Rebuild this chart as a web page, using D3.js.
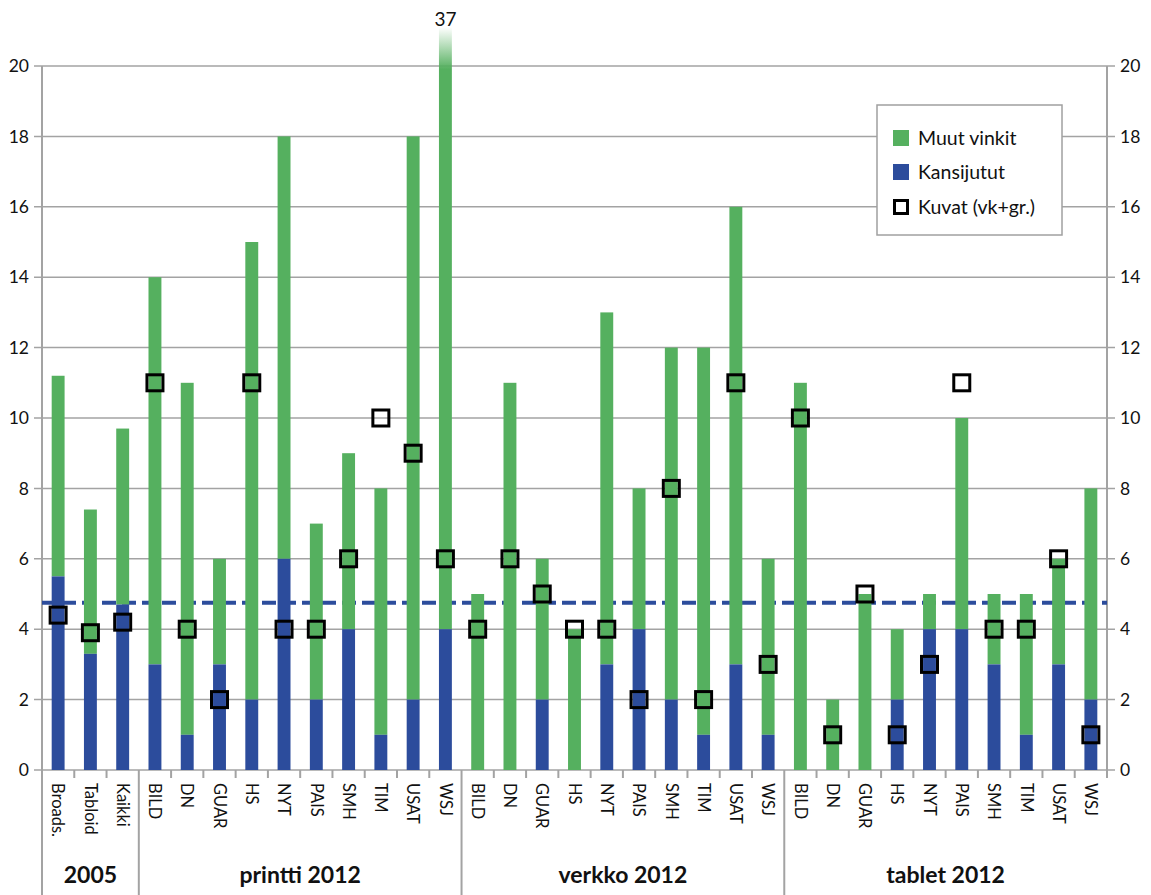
<!DOCTYPE html>
<html>
<head>
<meta charset="utf-8">
<script src="https://cdn.jsdelivr.net/npm/d3@7"></script>
<style>
  html, body { margin: 0; padding: 0; background: #fff; }
  svg { display: block; font-family: "Lato", "Noto Sans", sans-serif; }
</style>
</head>
<body>
<svg id="chart" width="1151" height="895"></svg>
<script>
// Groups and the papers within each group
const groups = ["2005", "printti 2012", "verkko 2012", "tablet 2012"];
const groupMembers = [
  ["Broads.", "Tabloid", "Kaikki"],
  ["BILD", "DN", "GUAR", "HS", "NYT", "PAIS", "SMH", "TIM", "USAT", "WSJ"],
  ["BILD", "DN", "GUAR", "HS", "NYT", "PAIS", "SMH", "TIM", "USAT", "WSJ"],
  ["BILD", "DN", "GUAR", "HS", "NYT", "PAIS", "SMH", "TIM", "USAT", "WSJ"]
];

// Kansijutut (cover stories), stacked bottom
const kansijutut = [
  5.5, 3.3, 4.7,
  3, 1, 3, 2, 6, 2, 4, 1, 2, 4,
  0, 0, 2, 0, 3, 4, 2, 1, 3, 1,
  0, 0, 0, 2, 4, 4, 3, 1, 3, 2
];
// Total of all tips (Kansijutut + Muut vinkit)
const totals = [
  11.2, 7.4, 9.7,
  14, 11, 6, 15, 18, 7, 9, 8, 18, 37,
  5, 11, 6, 4, 13, 8, 12, 12, 16, 6,
  11, 2, 5, 4, 5, 10, 5, 5, 6, 8
];
// Kuvat (vk+gr.) markers
const kuvat = [
  4.4, 3.9, 4.2,
  11, 4, 2, 11, 4, 4, 6, 10, 9, 6,
  4, 6, 5, 4, 4, 2, 8, 2, 11, 3,
  10, 1, 5, 1, 3, 11, 4, 4, 6, 1
];
// Reference level drawn as a dashed line
const referenceLevel = 4.75;
const yTicks = [0, 2, 4, 6, 8, 10, 12, 14, 16, 18, 20];

const GREEN = "#55b05f";
const BLUE = "#2c4c9c";
const GRID = "#a3a3a3";

// Flatten into rows
const rows = [];
groups.forEach((g, gi) => {
  groupMembers[gi].forEach(name => {
    const i = rows.length;
    rows.push({
      key: g + "|" + name, group: g, name,
      blue: kansijutut[i], total: totals[i], kuvat: kuvat[i]
    });
  });
});

const svg = d3.select("#chart");
const plotLeft = 42, plotRight = 1107, plotTop = 66, plotBottom = 770;

const x = d3.scaleBand().domain(rows.map(r => r.key)).range([plotLeft, plotRight]).padding(0);
const y = d3.scaleLinear().domain([0, 20]).range([plotBottom, plotTop]);
const yMaxDrawn = 21.1; // tall bars are cut off just above the top gridline
const barW = x.bandwidth() * 0.4;

// Gradient for bars that exceed the axis
const defs = svg.append("defs");
const grad = defs.append("linearGradient")
  .attr("id", "fade").attr("x1", 0).attr("x2", 0).attr("y1", 1).attr("y2", 0);
grad.append("stop").attr("offset", "0%").attr("stop-color", GREEN).attr("stop-opacity", 1);
grad.append("stop").attr("offset", "93%").attr("stop-color", GREEN).attr("stop-opacity", 1);
grad.append("stop").attr("offset", "100%").attr("stop-color", GREEN).attr("stop-opacity", 0);

// Gridlines with tick extensions on both sides
svg.append("g").selectAll("line").data(yTicks).join("line")
  .attr("x1", plotLeft - 8).attr("x2", plotRight + 8)
  .attr("y1", d => y(d)).attr("y2", d => y(d))
  .attr("stroke", GRID).attr("stroke-width", 1.5);

// Y tick labels, left and right
svg.append("g").selectAll("text").data(yTicks).join("text")
  .attr("x", 29).attr("y", d => y(d)).attr("dy", "0.35em")
  .attr("text-anchor", "end").attr("font-size", 17.5).attr("fill", "#111")
  .text(d => d);
svg.append("g").selectAll("text").data(yTicks).join("text")
  .attr("x", 1120).attr("y", d => y(d)).attr("dy", "0.35em")
  .attr("text-anchor", "start").attr("font-size", 17.5).attr("fill", "#111")
  .text(d => d);

// Vertical axes
svg.append("line").attr("x1", plotLeft).attr("x2", plotLeft).attr("y1", plotTop).attr("y2", 895)
  .attr("stroke", GRID).attr("stroke-width", 2);
svg.append("line").attr("x1", plotRight).attr("x2", plotRight).attr("y1", plotTop).attr("y2", plotBottom + 6)
  .attr("stroke", GRID).attr("stroke-width", 2);

// Dashed reference line (behind bars)
svg.append("line")
  .attr("x1", plotLeft).attr("x2", plotRight)
  .attr("y1", y(referenceLevel)).attr("y2", y(referenceLevel))
  .attr("stroke", BLUE).attr("stroke-width", 4).attr("stroke-dasharray", "14,6");

// Stacked bars
const bars = svg.append("g");
bars.selectAll("rect.muut").data(rows).join("rect")
  .attr("class", "muut")
  .attr("x", d => x(d.key) + (x.bandwidth() - barW) / 2)
  .attr("width", barW)
  .attr("y", d => y(Math.min(d.total, yMaxDrawn)))
  .attr("height", d => y(d.blue) - y(Math.min(d.total, yMaxDrawn)))
  .attr("fill", d => d.total > 20 ? "url(#fade)" : GREEN);
bars.selectAll("rect.kansi").data(rows.filter(d => d.blue > 0)).join("rect")
  .attr("class", "kansi")
  .attr("x", d => x(d.key) + (x.bandwidth() - barW) / 2)
  .attr("width", barW)
  .attr("y", d => y(d.blue))
  .attr("height", d => y(0) - y(d.blue))
  .attr("fill", BLUE);

// Value label for the bar that runs off the scale
svg.append("g").selectAll("text").data(rows.filter(d => d.total > 20)).join("text")
  .attr("x", d => x(d.key) + x.bandwidth() / 2)
  .attr("y", 26)
  .attr("text-anchor", "middle").attr("font-size", 19).attr("fill", "#111")
  .text(d => d.total);

// Kuvat markers
const mk = 16;
svg.append("g").selectAll("rect").data(rows).join("rect")
  .attr("x", d => x(d.key) + x.bandwidth() / 2 - mk / 2)
  .attr("y", d => y(d.kuvat) - mk / 2)
  .attr("width", mk).attr("height", mk)
  .attr("fill", "none").attr("stroke", "#000").attr("stroke-width", 3);

// Category ticks
const boundaries = d3.range(rows.length + 1).map(i => plotLeft + i * x.bandwidth());
const groupStarts = [0];
groupMembers.forEach((m, i) => groupStarts.push(groupStarts[i] + m.length));
svg.append("g").selectAll("line").data(boundaries).join("line")
  .attr("x1", d => d).attr("x2", d => d)
  .attr("y1", plotBottom).attr("y2", (d, i) => groupStarts.includes(i) && i < rows.length ? 895 : plotBottom + 8)
  .attr("stroke", GRID).attr("stroke-width", 2);

// Category labels, rotated
svg.append("g").selectAll("text").data(rows).join("text")
  .attr("transform", d => `translate(${x(d.key) + x.bandwidth() / 2},783) rotate(90)`)
  .attr("dy", "0.35em").attr("text-anchor", "start")
  .attr("font-size", 16.5).attr("fill", "#111")
  .text(d => d.name);

// Group labels
svg.append("g").selectAll("text").data(groups).join("text")
  .attr("x", (g, i) => (boundaries[groupStarts[i]] + boundaries[groupStarts[i + 1]]) / 2)
  .attr("y", 883)
  .attr("text-anchor", "middle").attr("font-size", 23).attr("font-weight", "bold").attr("fill", "#111")
  .text(g => g);

// Legend
const lg = svg.append("g").attr("transform", "translate(877,105)");
lg.append("rect").attr("width", 185).attr("height", 130)
  .attr("fill", "#fff").attr("stroke", "#a0a0a0").attr("stroke-width", 1.5);
const legendItems = [
  { label: "Muut vinkit", type: "fill", color: GREEN, cy: 33 },
  { label: "Kansijutut", type: "fill", color: BLUE, cy: 67 },
  { label: "Kuvat (vk+gr.)", type: "marker", color: "#000", cy: 102 }
];
legendItems.forEach(it => {
  if (it.type === "fill") {
    lg.append("rect").attr("x", 16).attr("y", it.cy - 8).attr("width", 16).attr("height", 16).attr("fill", it.color);
  } else {
    lg.append("rect").attr("x", 17.5).attr("y", it.cy - 6.5).attr("width", 13).attr("height", 13)
      .attr("fill", "none").attr("stroke", "#000").attr("stroke-width", 3);
  }
  lg.append("text").attr("x", 41).attr("y", it.cy).attr("dy", "0.35em")
    .attr("font-size", 19.5).attr("fill", "#111").text(it.label);
});
</script>
</body>
</html>
